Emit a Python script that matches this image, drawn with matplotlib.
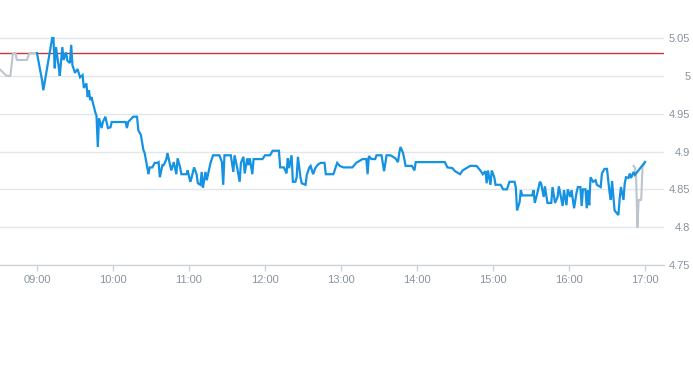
import numpy as np
import matplotlib
matplotlib.use("Agg")
import matplotlib.pyplot as plt

# 昨收
prev_close = 5.03

# 盘前 (灰色)
pre_times = ['08:31', '08:36', '08:39', '08:41', '08:43', '08:44', '08:52', '08:54', '08:59', '09:00']
pre_prices = [5.008, 5.000, 5.000, 5.030, 5.030, 5.021, 5.021, 5.030, 5.030, 5.030]

# 盘中 (蓝色)
times = [
    '09:00', '09:04', '09:05', '09:12', '09:13', '09:14', '09:15', '09:17', '09:18', '09:20',
    '09:21', '09:23', '09:24', '09:26', '09:27', '09:28', '09:30', '09:32', '09:34', '09:36',
    '09:37', '09:39', '09:40', '09:41', '09:42', '09:43', '09:45', '09:46', '09:47', '09:48',
    '09:49', '09:51', '09:52', '09:54', '09:56', '09:58', '09:59', '10:10', '10:11', '10:12',
    '10:16', '10:19', '10:20', '10:22', '10:24', '10:25', '10:27', '10:28', '10:29', '10:31',
    '10:33', '10:35', '10:36', '10:37', '10:39', '10:40', '10:42', '10:43', '10:46', '10:48',
    '10:50', '10:51', '10:53', '10:54', '10:58', '10:59', '11:01', '11:02', '11:04', '11:06',
    '11:07', '11:09', '11:10', '11:11', '11:13', '11:14', '11:17', '11:19', '11:24', '11:26',
    '11:27', '11:28', '11:33', '11:35', '11:36', '11:38', '11:40', '11:41', '11:43', '11:44',
    '11:46', '11:47', '11:48', '11:50', '11:51', '11:58', '12:00', '12:04', '12:06', '12:11',
    '12:12', '12:15', '12:17', '12:18', '12:19', '12:21', '12:22', '12:24', '12:25', '12:26',
    '12:28', '12:29', '12:32', '12:33', '12:35', '12:36', '12:38', '12:40', '12:42', '12:44',
    '12:47', '12:48', '12:54', '12:57', '12:59', '13:02', '13:09', '13:12', '13:17', '13:20',
    '13:21', '13:22', '13:24', '13:27', '13:28', '13:32', '13:34', '13:36', '13:39', '13:43',
    '13:45', '13:46', '13:47', '13:49', '13:51', '13:56', '13:58', '13:59', '14:22', '14:24',
    '14:28', '14:30', '14:34', '14:36', '14:42', '14:47', '14:50', '14:52', '14:54', '14:55',
    '14:56', '14:58', '14:59', '15:01', '15:02', '15:06', '15:08', '15:11', '15:13', '15:17',
    '15:18', '15:19', '15:21', '15:22', '15:23', '15:31', '15:32', '15:33', '15:35', '15:37',
    '15:38', '15:40', '15:41', '15:43', '15:46', '15:47', '15:49', '15:51', '15:52', '15:55',
    '15:56', '15:58', '15:59', '16:01', '16:02', '16:04', '16:06', '16:07', '16:09', '16:10',
    '16:11', '16:13', '16:14', '16:15', '16:16', '16:17', '16:19', '16:21', '16:22', '16:25',
    '16:26', '16:28', '16:30', '16:32', '16:33', '16:34', '16:36', '16:37', '16:39', '16:40',
    '16:41', '16:43', '16:44', '16:45', '16:47', '16:48', '16:49', '16:51', '16:52', '17:00',
]
prices = [
    5.030, 4.994, 4.981, 5.050, 5.050, 5.010, 5.038, 5.014, 5.000, 5.038,
    5.021, 5.031, 5.020, 5.017, 5.041, 5.014, 5.004, 5.009, 4.998, 5.001,
    4.984, 4.990, 4.972, 4.981, 4.968, 4.972, 4.959, 4.952, 4.947, 4.906,
    4.944, 4.931, 4.939, 4.946, 4.931, 4.932, 4.939, 4.939, 4.931, 4.939,
    4.946, 4.946, 4.928, 4.922, 4.902, 4.898, 4.879, 4.870, 4.879, 4.879,
    4.885, 4.885, 4.886, 4.866, 4.882, 4.882, 4.889, 4.898, 4.875, 4.886,
    4.870, 4.891, 4.879, 4.870, 4.870, 4.875, 4.860, 4.865, 4.879, 4.870,
    4.858, 4.856, 4.873, 4.852, 4.873, 4.862, 4.885, 4.895, 4.895, 4.886,
    4.856, 4.895, 4.895, 4.873, 4.895, 4.879, 4.860, 4.885, 4.893, 4.871,
    4.891, 4.882, 4.891, 4.870, 4.890, 4.890, 4.895, 4.895, 4.901, 4.901,
    4.879, 4.879, 4.871, 4.891, 4.878, 4.895, 4.860, 4.860, 4.866, 4.893,
    4.866, 4.858, 4.856, 4.869, 4.879, 4.881, 4.870, 4.879, 4.883, 4.885,
    4.885, 4.870, 4.870, 4.885, 4.881, 4.879, 4.879, 4.885, 4.890, 4.890,
    4.870, 4.894, 4.890, 4.890, 4.895, 4.895, 4.874, 4.895, 4.895, 4.891,
    4.886, 4.898, 4.906, 4.898, 4.881, 4.881, 4.875, 4.886, 4.886, 4.879,
    4.878, 4.874, 4.870, 4.875, 4.881, 4.881, 4.875, 4.870, 4.874, 4.858,
    4.875, 4.856, 4.875, 4.866, 4.856, 4.856, 4.850, 4.850, 4.860, 4.860,
    4.853, 4.822, 4.833, 4.849, 4.842, 4.842, 4.849, 4.832, 4.845, 4.860,
    4.858, 4.840, 4.854, 4.832, 4.832, 4.853, 4.832, 4.840, 4.854, 4.828,
    4.849, 4.829, 4.850, 4.840, 4.849, 4.825, 4.846, 4.853, 4.853, 4.828,
    4.850, 4.850, 4.825, 4.849, 4.829, 4.866, 4.860, 4.862, 4.856, 4.853,
    4.871, 4.877, 4.877, 4.846, 4.836, 4.861, 4.822, 4.820, 4.816, 4.838,
    4.853, 4.836, 4.858, 4.866, 4.865, 4.871, 4.865, 4.873, 4.869, 4.886,
]

# 盘后 (灰色)
post_times = ['16:51', '16:52', '16:53', '16:54', '16:55', '16:57', '16:58', '17:00']
post_prices = [4.881, 4.879, 4.866, 4.800, 4.836, 4.836, 4.879, 4.886]

xtick_labels = ['09:00', '10:00', '11:00', '12:00', '13:00', '14:00', '15:00', '16:00', '17:00']
ytick_values = [4.75, 4.8, 4.85, 4.9, 4.95, 5.0, 5.05]


def to_min(t):
    h, m = t.split(':')
    return int(h) * 60 + int(m)


plt.rcParams['font.family'] = ['Liberation Sans', 'DejaVu Sans']

fig = plt.figure(figsize=(6.93, 3.65), dpi=100)
ax = fig.add_axes([0.0, 0.274, 664 / 693, 0.6425])

blue = '#1592e2'
gray = '#bcc5cd'
label_color = '#8893a0'

ax.axhline(prev_close, color='#c9373b', lw=1.0, zorder=2)
ax.plot([to_min(t) for t in pre_times], pre_prices, color=gray, lw=1.5, zorder=3)
ax.plot([to_min(t) for t in post_times], post_prices, color=gray, lw=1.5, zorder=3)
ax.plot([to_min(t) for t in times], prices, color=blue, lw=1.6, zorder=4,
        solid_joinstyle='miter')

ax.set_xlim(510.8, 1035)
ax.set_ylim(4.75, 5.06)

ax.set_xticks([to_min(t) for t in xtick_labels])
ax.set_xticklabels(xtick_labels)
ax.set_yticks(ytick_values)
ax.set_yticklabels(['%g' % v for v in ytick_values])

for s in ['top', 'left', 'right']:
    ax.spines[s].set_visible(False)
ax.spines['bottom'].set_color('#cdd3db')
ax.spines['bottom'].set_linewidth(1.0)

ax.yaxis.tick_right()
ax.tick_params(axis='y', length=0, pad=19, labelsize=8, labelcolor=label_color)
for lbl in ax.get_yticklabels():
    lbl.set_horizontalalignment('right')
ax.tick_params(axis='x', length=4, width=1, color='#cdd3db', pad=3,
               labelsize=8, labelcolor=label_color)

ax.grid(axis='y', color='#e3e6eb', lw=1.0)
ax.set_axisbelow(True)

fig.savefig('out.png', dpi=100)
